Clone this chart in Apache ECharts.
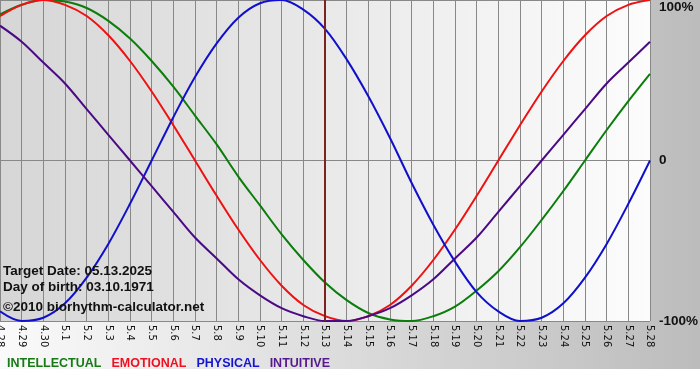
<!DOCTYPE html>
<html><head><meta charset="utf-8">
<script src="https://cdn.jsdelivr.net/npm/echarts@6/dist/echarts.min.js"></script>
<style>html,body{margin:0;padding:0;background:#fff}#c{width:700px;height:380px}</style>
</head><body><div id="c"></div>
<script>
var days = ['4.28','4.29','4.30','5.1','5.2','5.3','5.4','5.5','5.6','5.7','5.8','5.9','5.10','5.11','5.12','5.13','5.14','5.15','5.16','5.17','5.18','5.19','5.20','5.21','5.22','5.23','5.24','5.25','5.26','5.27','5.28'];
var intellectual = [91,97,100,99,95,87,76,62,46,28,10,-10,-28,-46,-62,-76,-87,-95,-99,-100,-97,-91,-81,-69,-54,-37,-19,0,19,37,54];
var emotional = [90,97,100,97,90,78,62,43,22,0,-22,-43,-62,-78,-90,-97,-100,-97,-90,-78,-62,-43,-22,0,22,43,62,78,90,97,100];
var physical = [-94,-100,-98,-89,-73,-52,-27,0,27,52,73,89,98,100,94,82,63,40,14,-14,-40,-63,-82,-94,-100,-98,-89,-73,-52,-27,0];
var intuitive = [84,74,61,48,32,16,0,-16,-32,-48,-61,-74,-84,-92,-97,-100,-100,-97,-92,-84,-74,-61,-48,-32,-16,0,16,32,48,61,74];
var yTicks = {'100':'100%','0':'0','-100':'-100%'};
var targetDay = '5.13';
var infoLines = ['Target Date: 05.13.2025','Day of birth: 03.10.1971','\u00a92010 biorhythm-calculator.net'];

var chart = echarts.init(document.getElementById('c'));
var font = '"Liberation Sans", Arial, sans-serif';
function ser(name, data, color) {
  return {name:name, type:'line', data:data, smooth:0.34, showSymbol:false,
    lineStyle:{color:color, width:2}, itemStyle:{color:color}, z:3};
}
var s = [
  ser('INTELLECTUAL', intellectual, '#0a7d0a'),
  ser('EMOTIONAL', emotional, '#ee1111'),
  ser('PHYSICAL', physical, '#1010cc'),
  ser('INTUITIVE', intuitive, '#4b0a85')
];
s[0].markLine = {silent:true, symbol:'none', label:{show:false},
  lineStyle:{color:'#7d2222', width:2, type:'solid'}, data:[{xAxis:targetDay}]};

chart.setOption({
  backgroundColor:'#ffffff',
  animation:false,
  graphic:[
    {type:'rect', z:-100, silent:true, shape:{x:0,y:0,width:700,height:369},
     style:{fill:new echarts.graphic.LinearGradient(0,0,1,0,[{offset:0,color:'#fafafa'},{offset:1,color:'#bcbcbc'}])}},
    {type:'text', left:3, top:264, z:100, style:{text:infoLines[0], font:'bold 13.5px '+font, fill:'#111'}},
    {type:'text', left:3, top:280, z:100, style:{text:infoLines[1], font:'bold 13.5px '+font, fill:'#111'}},
    {type:'text', left:3, top:300, z:100, style:{text:infoLines[2], font:'bold 13.5px '+font, fill:'#111'}}
  ],
  grid:{left:0, right:50, top:0, bottom:59, show:true, borderWidth:0, containLabel:false, outerBoundsMode:'none',
    backgroundColor:new echarts.graphic.LinearGradient(0,0,1,0,[{offset:0,color:'#d6d6d6'},{offset:1,color:'#fcfcfc'}])},
  legend:{left:-3, top:352, icon:'none', itemWidth:0, itemHeight:10, itemGap:5, selectedMode:false,
    textStyle:{fontFamily:font, fontWeight:'bold', fontSize:12.5},
    data:[
      {name:'INTELLECTUAL', textStyle:{color:'#177a17'}},
      {name:'EMOTIONAL', textStyle:{color:'#ee1122'}},
      {name:'PHYSICAL', textStyle:{color:'#1515d0'}},
      {name:'INTUITIVE', textStyle:{color:'#551a8b'}}
    ]},
  xAxis:{type:'category', data:days, boundaryGap:false,
    axisLine:{show:true, lineStyle:{color:'#888', width:1}},
    axisTick:{show:true, length:4, interval:0, lineStyle:{color:'#888'}},
    axisLabel:{interval:0, rotate:-90, fontSize:10, fontFamily:'"DejaVu Sans", Verdana, sans-serif', color:'#111', margin:4},
    splitLine:{show:true, interval:0, lineStyle:{color:'#888', width:1}}},
  yAxis:{type:'value', position:'right', min:-100, max:100, interval:100,
    axisLine:{show:false}, axisTick:{show:false},
    splitLine:{show:true, lineStyle:{color:'#888', width:1}},
    axisLabel:{margin:9, align:'left', color:'#111',
      formatter:function(v){ var t = yTicks[String(v)]; return v===100 ? '{t|'+t+'}' : '{n|'+t+'}'; },
      rich:{
        t:{fontFamily:font, fontWeight:'bold', fontSize:13.5, color:'#111', lineHeight:15, padding:[14,0,0,0]},
        n:{fontFamily:font, fontWeight:'bold', fontSize:13.5, color:'#111', lineHeight:15}
      }}},
  series:s
});
</script></body></html>
